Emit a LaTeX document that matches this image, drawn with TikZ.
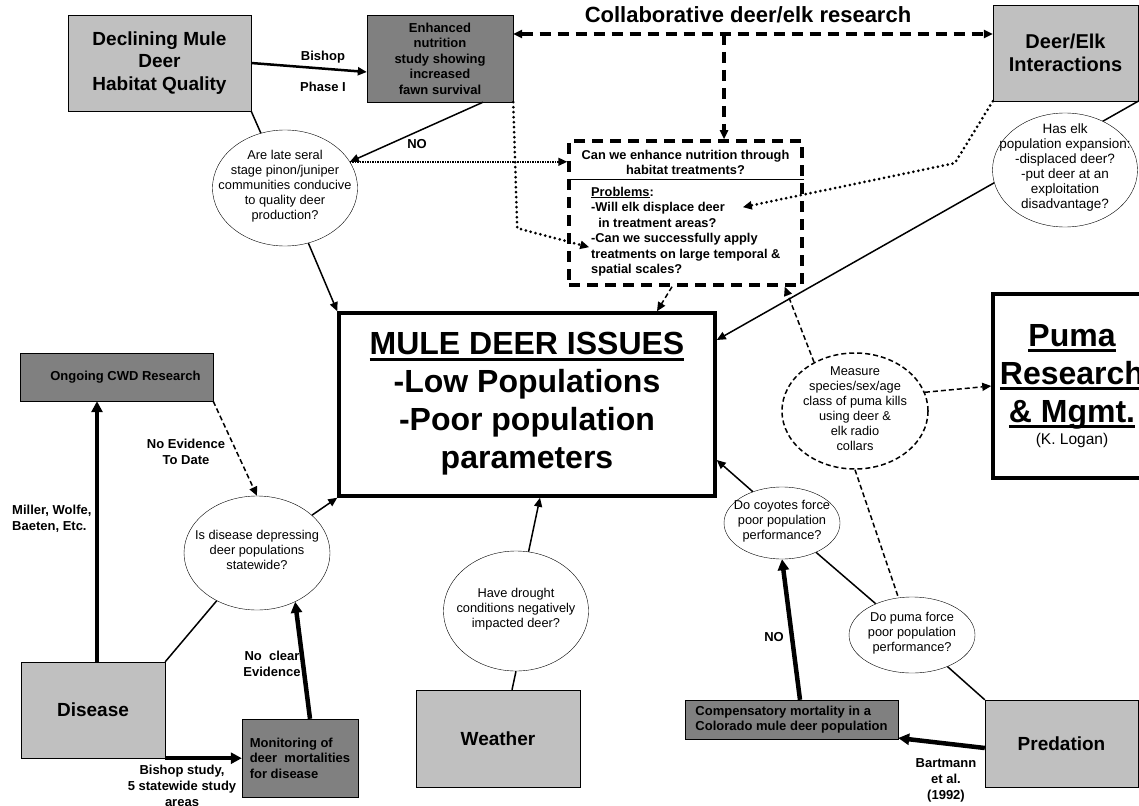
\documentclass[tikz,border=0pt]{standalone}
\usepackage{fontspec}
\setmainfont{Liberation Sans}
\usetikzlibrary{arrows.meta,shapes.geometric}
\definecolor{lgray}{HTML}{C0C0C0}
\definecolor{dgray}{HTML}{808080}
\newcommand{\sz}[2]{\fontsize{#1}{#2}\selectfont}
\newcommand{\qtext}[1]{\makebox[0pt]{\raisebox{-3pt}{\smash{\begin{tabular}{@{}c@{}}#1\end{tabular}}}}}
\newcommand{\thul}[1]{\leavevmode\setbox0\hbox{#1}\rlap{\rule[-6pt]{\wd0}{3pt}}\box0}

\begin{document}
\begin{tikzpicture}
[x=1pt, y=-1pt, >={Triangle[length=9pt,width=8pt]},
lbox/.style={draw, fill=lgray, font=\sz{19}{22.5}\bfseries, align=center, inner sep=0pt},
dbox/.style={draw, fill=dgray, font=\sz{13}{15.5}\bfseries, align=center, inner sep=0pt},
quest/.style={ellipse, draw, fill=white, font=\sz{12.8}{15}, inner sep=0pt},
bigbox/.style={draw, line width=3.5pt, font=\sz{32}{38}\bfseries, align=center, inner sep=0pt},
lab/.style={font=\sz{13}{16}\bfseries, align=center, inner sep=0pt},
link/.style={line width=1.5pt},
fat/.style={line width=4.5pt, -{Triangle[length=11pt,width=11pt]}},
bigdash/.style={line width=3.5pt, dash pattern=on 11pt off 7pt},
thindash/.style={line width=1.5pt, dash pattern=on 5pt off 3pt},
bigdot/.style={line width=3pt, line cap=round, dash pattern=on 0pt off 5pt},
thindot/.style={line width=1.5pt, densely dotted}]

\useasboundingbox (0,0) rectangle (1139,805);

\node[lbox, minimum width=183pt, minimum height=96pt] (decl) at (159.5,63) {Declining Mule\\Deer\\ Habitat Quality};
\node[dbox, minimum width=146pt, minimum height=87pt] (enh) at (440,58.5) {Enhanced\\nutrition\\study showing\\increased\\fawn survival};
\node[lbox, font=\sz{20}{23}\bfseries, minimum width=145pt, minimum height=96pt] (deerelk) at (1065.5,53) {Deer/Elk\\Interactions};
\node[font=\sz{22}{26}\bfseries] (collab) at (748,15) {Collaborative deer/elk research};

\node[quest, minimum width=145pt, minimum height=116pt] (seral) at (285,188) {\qtext{Are late seral\\stage pinon/juniper\\communities conducive\\to quality deer\\production?}};

\node[bigdash, draw, minimum width=233pt, minimum height=144pt] (dbox) at (685.5,213) {};
\node[lab, font=\sz{12.8}{15}\bfseries] (dq) at (685.5,162.5) {Can we enhance nutrition through\\habitat treatments?};
\node[lab, font=\sz{12.8}{15.5}\bfseries, align=left, anchor=west] (dp) at (591,231.5) {\underline{Problems}:\\-Will elk displace deer\\\ \ in treatment areas?\\-Can we successfully apply\\treatments on large temporal \&\\spatial scales?};
\coordinate (cut) at (685.5,179);
\draw[line width=1pt] (cut -| dbox.west) -- (cut -| dbox.east);

\node[bigbox, minimum width=376pt, minimum height=183pt] (mule) at (527,404.5) {\thul{MULE DEER ISSUES}\\-Low Populations\\-Poor population\\parameters\\[-30pt]};
\node[bigbox, minimum width=158pt, minimum height=184pt] (puma) at (1072,386) {\thul{Puma}\\\thul{Research}\\\thul{\& Mgmt.}\\[-16pt]{\sz{15.5}{18}\mdseries (K. Logan)}};

\draw[link,->] (deerelk.south east) -- ([yshift=64.5pt]mule.east);
\node[quest, font=\sz{13.5}{15}, minimum width=145pt, minimum height=114pt] (elkq) at (1065,170) {\qtext{Has elk\\population expansion:\\-displaced deer?\\-put deer at an\\exploitation\\disadvantage?}};

\node[quest, thindash, minimum width=146pt, minimum height=116pt] (measure) at (855,411) {\qtext{Measure\\species/sex/age\\class of puma kills\\using deer \&\\elk radio\\collars}};
\node[quest, minimum width=116pt, minimum height=72pt] (coy) at (782,523) {\qtext{Do coyotes force\\poor population\\performance?}};
\node[quest, minimum width=126pt, minimum height=76pt] (pumaq) at (912,635) {\qtext{Do puma force\\poor population\\performance?}};
\node[lbox, minimum width=153pt, minimum height=87pt] (pred) at (1061.5,743.5) {Predation};
\node[dbox, align=left, minimum width=213pt, minimum height=39pt] (comp) at (791.5,719.5) {Compensatory mortality in a\\Colorado mule deer population};

\node[dbox, minimum width=193pt, minimum height=48pt] (cwd) at (116.5,377) {\hspace*{18pt}Ongoing CWD Research};
\node[quest, minimum width=146pt, minimum height=114pt] (disq) at (257,553) {\qtext{Is disease depressing\\deer populations\\statewide?}};
\node[lbox, minimum width=144pt, minimum height=96pt] (dis) at (93,710) {Disease};
\node[dbox, align=left, minimum width=116pt, minimum height=78pt] (mon) at (300,758) {Monitoring of\\deer\ \ mortalities\\for disease};
\node[quest, minimum width=145pt, minimum height=120pt] (drought) at (516,611) {\qtext{Have drought\\conditions negatively\\impacted deer?}};
\node[lbox, minimum width=164pt, minimum height=97pt] (weather) at (498,738.5) {Weather};

\node[lab] (bishop) at (323,57) {Bishop};
\node[lab] (phase) at (323,87) {Phase I};
\node[lab] (no1) at (417,144) {NO};
\node[lab] (noev) at (186,452) {No Evidence\\To Date};
\node[lab, align=left, anchor=west] (miller) at (12,519) {Miller, Wolfe,\\Baeten, Etc.};
\node[lab] (noclear) at (272,664) {No\ \ clear\\Evidence};
\node[lab] (bstudy) at (182,786) {Bishop study,\\5 statewide study\\areas};
\node[lab] (bart) at (946,780) {Bartmann\\et al.\\(1992)};
\node[lab] (no2) at (774,637) {NO};

\draw[line width=2.5pt,->] (decl.east) -- ([yshift=-13.5pt]enh.west);
\draw[link] (decl.south east) -- (seral);
\draw[link,->] ([xshift=43pt]enh.south) -- (seral.22);
\draw[thindot,->] (seral.22) -- (seral.22 -| dbox.west);
\draw[bigdot,->] (enh.south east) -- ++(4,126) -- ++(72,19);
\draw[bigdot,->] (deerelk.south west) -- ++(-38,62) -- ++(-212,44);
\draw[bigdash,<->] ([yshift=24.5pt]enh.east) -- ([yshift=19pt]deerelk.west);
\coordinate (split) at (724,34);
\draw[bigdash,->] (split) -- (split |- dbox.north);

\draw[link,->] (seral) -- (mule.north west);
\draw[thindash,->] ([xshift=-13.5pt]dbox.south) -- ([xshift=130pt]mule.north);
\draw[thindash,->] (measure.130) -- ([xshift=-19pt]dbox.south east);
\draw[thindash,->] (measure.15) -- (puma.west);
\draw[thindash] (measure.south) -- (pumaq.110);
\draw[link,->] (coy.133) -- ([yshift=-55.5pt]mule.east);
\draw[link] (coy) -- (pumaq);
\draw[link] (pumaq) -- (pred.north west);
\draw[fat] ([yshift=-4.5pt]pred.west) -- ([yshift=-18.5pt]comp.east);
\draw[fat] ([xshift=8.5pt]comp.north) -- (coy.south);

\draw[fat] ([xshift=4pt]dis.north) -- ([xshift=4pt]dis.north |- cwd.south);
\draw[thindash,->] (cwd.south east) -- (disq.north);
\draw[link,->] (disq) -- (mule.south west);
\draw[link] (dis.north east) -- (disq);
\draw[fat] (dis.south east) -- (dis.south east -| mon.west);
\draw[fat] ([xshift=10pt]mon.north) -- (disq.-52);
\draw[link,->] (drought) -- ([xshift=13pt]mule.south);
\draw[link] (drought.south) -- ([xshift=14pt]weather.north);
\end{tikzpicture}
\end{document}
